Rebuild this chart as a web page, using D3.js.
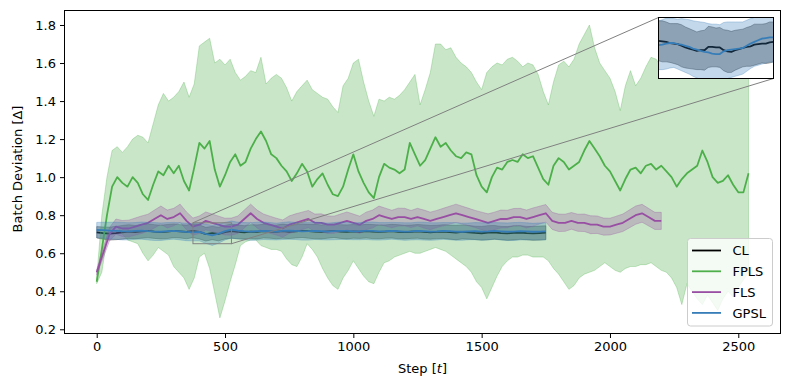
<!DOCTYPE html>
<html>
<head>
<meta charset="utf-8">
<script src="https://cdn.jsdelivr.net/npm/d3@7"></script>
<style>
  body { margin: 0; background: #fff; }
  svg text { font-family: "DejaVu Sans", sans-serif; fill: #000; }
</style>
</head>
<body>
<div id="chart"></div>
<script>
// ---- data ----
const fplsStep = 20;
const fplsMean = [
  0.45,0.62,0.80,0.95,1.00,0.97,0.95,1.00,0.97,0.91,
  0.88,0.96,1.03,1.01,1.06,1.02,1.06,0.98,0.93,1.05,
  1.18,1.15,1.19,1.04,0.95,1.01,1.08,1.12,1.06,1.08,
  1.15,1.20,1.24,1.19,1.12,1.10,1.06,1.03,0.98,1.02,
  1.07,1.03,0.95,0.99,1.02,0.96,0.91,0.90,0.95,1.04,
  1.12,1.03,0.97,0.92,0.89,1.00,1.07,1.05,1.04,1.02,
  1.04,1.18,1.12,1.06,1.09,1.15,1.21,1.16,1.18,1.14,
  1.11,1.10,1.13,1.12,1.01,0.95,0.92,1.00,1.05,1.04,
  1.08,1.09,1.08,1.12,1.10,1.11,1.05,0.99,0.96,1.06,
  1.10,1.08,1.04,1.06,1.08,1.14,1.19,1.15,1.11,1.06,
  1.03,0.98,0.93,0.99,1.04,1.05,1.02,1.06,1.07,1.04,
  1.06,1.03,1.00,0.95,0.99,1.02,1.04,1.06,1.14,1.08,
  1.00,0.97,0.98,1.01,0.96,0.92,0.92,1.02
];
const fplsUpper = [
  0.47,0.80,1.00,1.14,1.16,1.13,1.16,1.20,1.22,1.21,
  1.18,1.28,1.38,1.44,1.40,1.42,1.45,1.50,1.42,1.49,
  1.69,1.71,1.73,1.60,1.62,1.59,1.62,1.55,1.51,1.53,
  1.56,1.55,1.63,1.49,1.52,1.54,1.52,1.47,1.40,1.45,
  1.48,1.51,1.46,1.44,1.42,1.41,1.37,1.34,1.48,1.52,
  1.60,1.62,1.50,1.40,1.32,1.41,1.40,1.42,1.41,1.43,
  1.46,1.50,1.54,1.38,1.46,1.55,1.70,1.70,1.67,1.68,
  1.63,1.60,1.58,1.55,1.50,1.46,1.55,1.58,1.60,1.59,
  1.62,1.63,1.61,1.58,1.60,1.59,1.54,1.45,1.38,1.50,
  1.59,1.61,1.58,1.62,1.70,1.75,1.80,1.68,1.60,1.56,
  1.52,1.45,1.35,1.48,1.56,1.48,1.52,1.58,1.63,1.62,
  1.58,1.60,1.57,1.55,1.58,1.60,1.62,1.64,1.66,1.62,
  1.58,1.60,1.62,1.60,1.57,1.55,1.56,1.55
];
const fplsLower = [
  0.44,0.50,0.68,0.74,0.74,0.70,0.67,0.66,0.65,0.60,
  0.56,0.59,0.63,0.61,0.59,0.53,0.50,0.47,0.41,0.47,
  0.58,0.60,0.52,0.39,0.26,0.35,0.45,0.54,0.64,0.66,
  0.67,0.67,0.64,0.63,0.62,0.62,0.61,0.57,0.54,0.53,
  0.58,0.65,0.62,0.58,0.52,0.47,0.43,0.41,0.47,0.51,
  0.56,0.52,0.48,0.45,0.44,0.50,0.55,0.56,0.58,0.59,
  0.60,0.61,0.60,0.60,0.61,0.62,0.63,0.62,0.61,0.59,
  0.57,0.55,0.53,0.50,0.45,0.42,0.36,0.42,0.48,0.53,
  0.56,0.58,0.58,0.59,0.59,0.58,0.58,0.58,0.56,0.52,
  0.49,0.45,0.41,0.43,0.47,0.49,0.50,0.51,0.53,0.55,
  0.53,0.51,0.50,0.52,0.53,0.53,0.54,0.54,0.55,0.53,
  0.51,0.50,0.47,0.42,0.33,0.44,0.40,0.36,0.33,0.38,
  0.34,0.30,0.36,0.40,0.37,0.42,0.46,0.50
];

const flsStep = 25;
const flsMean = [
  0.50,0.60,0.70,0.74,0.73,0.73,0.74,0.75,0.76,0.78,
  0.80,0.78,0.79,0.81,0.77,0.74,0.75,0.77,0.76,0.75,
  0.74,0.74,0.75,0.78,0.81,0.78,0.76,0.75,0.74,0.73,
  0.75,0.76,0.77,0.78,0.76,0.76,0.75,0.75,0.76,0.77,
  0.76,0.75,0.77,0.78,0.80,0.79,0.78,0.79,0.79,0.78,
  0.79,0.78,0.77,0.78,0.79,0.80,0.81,0.80,0.79,0.78,
  0.77,0.76,0.77,0.78,0.78,0.79,0.79,0.78,0.79,0.80,
  0.81,0.77,0.76,0.76,0.77,0.76,0.76,0.75,0.75,0.74,
  0.74,0.75,0.76,0.78,0.80,0.81,0.79,0.77,0.77
];
const flsSd = [
  0.015,0.025,0.035,0.040,0.042,0.044,0.045,0.046,0.045,0.047,
  0.048,0.047,0.046,0.048,0.047,0.045,0.046,0.047,0.046,0.045,
  0.044,0.045,0.046,0.047,0.048,0.047,0.046,0.045,0.044,0.045,
  0.046,0.047,0.046,0.045,0.046,0.047,0.046,0.045,0.046,0.047,
  0.046,0.045,0.046,0.047,0.048,0.047,0.046,0.047,0.046,0.045,
  0.046,0.047,0.046,0.045,0.046,0.047,0.048,0.047,0.046,0.045,
  0.046,0.047,0.046,0.047,0.046,0.045,0.046,0.047,0.048,0.047,
  0.046,0.045,0.046,0.045,0.044,0.045,0.046,0.047,0.046,0.045,
  0.044,0.045,0.046,0.047,0.048,0.047,0.046,0.045,0.045
];

const clStep = 25;
const clMean = [
  0.710,0.706,0.703,0.706,0.710,0.714,0.711,0.715,0.718,0.714,
  0.711,0.714,0.718,0.715,0.712,0.718,0.712,0.700,0.706,0.701,
  0.711,0.716,0.712,0.710,0.714,0.712,0.716,0.714,0.712,0.716,
  0.713,0.715,0.718,0.716,0.714,0.712,0.715,0.717,0.714,0.712,
  0.715,0.713,0.716,0.714,0.712,0.714,0.716,0.713,0.711,0.713,
  0.715,0.712,0.710,0.712,0.714,0.711,0.709,0.712,0.710,0.707,
  0.705,0.708,0.710,0.706,0.704,0.707,0.709,0.706,0.704,0.706,
  0.708
];
const clSd = [
  0.030,0.032,0.034,0.035,0.036,0.036,0.035,0.036,0.037,0.036,
  0.036,0.037,0.036,0.035,0.036,0.036,0.037,0.036,0.035,0.036,
  0.036,0.037,0.036,0.035,0.036,0.037,0.036,0.035,0.036,0.037,
  0.036,0.035,0.036,0.037,0.038,0.037,0.036,0.035,0.036,0.037,
  0.036,0.035,0.036,0.037,0.036,0.035,0.036,0.037,0.036,0.035,
  0.036,0.037,0.036,0.035,0.036,0.037,0.038,0.037,0.036,0.035,
  0.036,0.037,0.036,0.035,0.036,0.037,0.036,0.035,0.036,0.037,
  0.036
];
const gpslMean = [
  0.722,0.721,0.719,0.718,0.716,0.715,0.717,0.719,0.716,0.714,
  0.713,0.716,0.718,0.715,0.712,0.710,0.712,0.702,0.694,0.703,
  0.716,0.724,0.719,0.716,0.714,0.716,0.718,0.716,0.714,0.717,
  0.719,0.717,0.715,0.716,0.718,0.716,0.714,0.716,0.718,0.717,
  0.715,0.716,0.718,0.717,0.715,0.716,0.718,0.716,0.714,0.715,
  0.717,0.716,0.714,0.715,0.717,0.716,0.714,0.713,0.715,0.716,
  0.714,0.715,0.717,0.715,0.713,0.714,0.716,0.715,0.713,0.714,
  0.715
];
const gpslSd = [
  0.040,0.042,0.044,0.045,0.046,0.045,0.044,0.045,0.046,0.047,
  0.046,0.045,0.044,0.045,0.046,0.045,0.047,0.050,0.053,0.050,
  0.046,0.045,0.044,0.045,0.046,0.047,0.046,0.045,0.044,0.045,
  0.046,0.045,0.046,0.047,0.046,0.045,0.044,0.045,0.046,0.045,
  0.044,0.045,0.046,0.047,0.046,0.045,0.044,0.045,0.046,0.045,
  0.046,0.047,0.046,0.045,0.044,0.045,0.046,0.045,0.044,0.045,
  0.046,0.045,0.044,0.045,0.046,0.047,0.046,0.045,0.044,0.045,
  0.045
];

// finer readings for the zoomed window (steps 375..525)
const insetStart = 375, insetStep = 5;
const clInsetMean = [
  0.718,0.717,0.716,0.714,0.713,0.712,0.709,0.706,0.704,0.702,
  0.700,0.701,0.701,0.707,0.707,0.706,0.706,0.701,0.699,0.698,
  0.701,0.703,0.705,0.707,0.708,0.711,0.712,0.713,0.713,0.715,
  0.716
];
const clInsetSd = [
  0.036,0.037,0.036,0.035,0.036,0.037,0.038,0.037,0.036,0.035,
  0.034,0.035,0.036,0.037,0.036,0.035,0.036,0.037,0.038,0.037,
  0.036,0.035,0.034,0.035,0.036,0.037,0.036,0.035,0.036,0.037,
  0.036
];
const gpslInsetMean = [
  0.710,0.711,0.713,0.714,0.714,0.712,0.711,0.709,0.707,0.704,
  0.702,0.700,0.698,0.697,0.695,0.694,0.694,0.699,0.701,0.702,
  0.703,0.704,0.705,0.709,0.713,0.716,0.719,0.722,0.723,0.724,
  0.724
];
const gpslInsetSd = [
  0.044,0.045,0.046,0.045,0.044,0.045,0.047,0.048,0.049,0.050,
  0.051,0.052,0.053,0.052,0.053,0.054,0.053,0.052,0.051,0.050,
  0.049,0.048,0.047,0.046,0.045,0.044,0.045,0.046,0.045,0.044,
  0.045
];

const xTicks = [0, 500, 1000, 1500, 2000, 2500];
const yTicks = [0.2, 0.4, 0.6, 0.8, 1.0, 1.2, 1.4, 1.6, 1.8];
const seriesNames = ["CL", "FPLS", "FLS", "GPSL"];
const seriesColors = ["#000000", "#4daf4a", "#984ea3", "#377eb8"];
const insetXLim = [375, 525];
const insetYLim = [0.65, 0.76];

// ---- build records ----
const toRecs = (step, start, mean, lo, hi) =>
  mean.map((m, i) => ({ t: start + i * step, m, lo: lo(i), hi: hi(i) }));
const cl = toRecs(clStep, 0, clMean, i => clMean[i] - clSd[i], i => clMean[i] + clSd[i]);
const fpls = toRecs(fplsStep, 0, fplsMean, i => fplsLower[i], i => fplsUpper[i]);
const fls = toRecs(flsStep, 0, flsMean, i => flsMean[i] - flsSd[i], i => flsMean[i] + flsSd[i]);
const gpsl = toRecs(clStep, 0, gpslMean, i => gpslMean[i] - gpslSd[i], i => gpslMean[i] + gpslSd[i]);
const clIn = toRecs(insetStep, insetStart, clInsetMean, i => clInsetMean[i] - clInsetSd[i], i => clInsetMean[i] + clInsetSd[i]);
const gpslIn = toRecs(insetStep, insetStart, gpslInsetMean, i => gpslInsetMean[i] - gpslInsetSd[i], i => gpslInsetMean[i] + gpslInsetSd[i]);

// ---- layout ----
const W = 790, H = 390;
const plot = { left: 64.5, right: 780.5, top: 10.5, bottom: 333.5 };
const inset = { left: 658.5, right: 773.5, top: 17.5, bottom: 78.5 };
const font = 13;

const svg = d3.select("#chart").append("svg")
  .attr("width", W).attr("height", H);

const x = d3.scaleLinear().domain([-125.5, 2664.5]).range([plot.left, plot.right]);
const y = d3.scaleLinear().domain([0.1779, 1.8762]).range([plot.bottom, plot.top]);

svg.append("clipPath").attr("id", "clipMain").append("rect")
  .attr("x", plot.left).attr("y", plot.top)
  .attr("width", plot.right - plot.left).attr("height", plot.bottom - plot.top);

const body = svg.append("g").attr("clip-path", "url(#clipMain)");

const drawSeries = (g, data, color, xs, ys) => {
  const area = d3.area().x(d => xs(d.t)).y0(d => ys(d.lo)).y1(d => ys(d.hi));
  const line = d3.line().x(d => xs(d.t)).y(d => ys(d.m));
  g.append("path").datum(data).attr("d", area)
    .attr("fill", color).attr("fill-opacity", 0.3)
    .attr("stroke", color).attr("stroke-opacity", 0.3).attr("stroke-width", 1);
  g.append("path").datum(data).attr("d", line)
    .attr("fill", "none").attr("stroke", color).attr("stroke-width", 1.8)
    .attr("stroke-linejoin", "round");
};

[cl, fpls, fls, gpsl].forEach((s, i) => drawSeries(body, s, seriesColors[i], x, y));

// zoom indicator + connectors
const rx0 = x(insetXLim[0]), rx1 = x(insetXLim[1]);
const ry0 = y(insetYLim[1]), ry1 = y(insetYLim[0]);
svg.append("rect")
  .attr("x", rx0).attr("y", ry0).attr("width", rx1 - rx0).attr("height", ry1 - ry0)
  .attr("fill", "none").attr("stroke", "#808080").attr("stroke-width", 1);
svg.append("line")
  .attr("x1", inset.left).attr("y1", inset.top).attr("x2", rx0).attr("y2", ry0)
  .attr("stroke", "#808080").attr("stroke-width", 1);
svg.append("line")
  .attr("x1", inset.right).attr("y1", inset.bottom).attr("x2", rx1).attr("y2", ry1)
  .attr("stroke", "#808080").attr("stroke-width", 1);

// axes
const xAxis = svg.append("g").attr("transform", `translate(0,${plot.bottom})`)
  .call(d3.axisBottom(x).tickValues(xTicks).tickSize(4.5).tickPadding(4).tickFormat(d3.format("d")));
const yAxis = svg.append("g").attr("transform", `translate(${plot.left},0)`)
  .call(d3.axisLeft(y).tickValues(yTicks).tickSize(4.5).tickPadding(4).tickFormat(d3.format(".1f")));
[xAxis, yAxis].forEach(a => {
  a.select(".domain").remove();
  a.selectAll(".tick line").attr("stroke", "#000").attr("stroke-width", 1);
  a.selectAll(".tick text").style("font-size", font + "px").attr("fill", "#000")
    .style("font-family", '"DejaVu Sans", sans-serif');
});

svg.append("rect")
  .attr("x", plot.left).attr("y", plot.top)
  .attr("width", plot.right - plot.left).attr("height", plot.bottom - plot.top)
  .attr("fill", "none").attr("stroke", "#000").attr("stroke-width", 1);

// axis labels
const xl = svg.append("text")
  .attr("x", (plot.left + plot.right) / 2).attr("y", 373)
  .attr("text-anchor", "middle").style("font-size", font + "px");
xl.append("tspan").text("Step [");
xl.append("tspan").style("font-style", "italic").text("t");
xl.append("tspan").text("]");

svg.append("text")
  .attr("transform", `translate(22,169) rotate(-90)`)
  .attr("text-anchor", "middle").style("font-size", font + "px")
  .text("Batch Deviation [Δ]");

// legend
const lg = svg.append("g");
lg.append("rect")
  .attr("x", 687.5).attr("y", 238.5).attr("width", 85).attr("height", 87.5)
  .attr("rx", 3).attr("fill", "#fff").attr("fill-opacity", 0.8)
  .attr("stroke", "#cccccc").attr("stroke-width", 1);
seriesNames.forEach((name, i) => {
  const yy = 250.5 + i * 20.8;
  lg.append("line").attr("x1", 692).attr("x2", 721).attr("y1", yy).attr("y2", yy)
    .attr("stroke", seriesColors[i]).attr("stroke-width", 1.8);
  lg.append("text").attr("x", 732.5).attr("y", yy).attr("dy", "0.36em")
    .style("font-size", font + "px").text(name);
});

// inset
const xi = d3.scaleLinear().domain(insetXLim).range([inset.left, inset.right]);
const yi = d3.scaleLinear().domain(insetYLim).range([inset.bottom, inset.top]);
svg.append("clipPath").attr("id", "clipInset").append("rect")
  .attr("x", inset.left).attr("y", inset.top)
  .attr("width", inset.right - inset.left).attr("height", inset.bottom - inset.top);
svg.append("rect")
  .attr("x", inset.left).attr("y", inset.top)
  .attr("width", inset.right - inset.left).attr("height", inset.bottom - inset.top)
  .attr("fill", "#fff");
const ib = svg.append("g").attr("clip-path", "url(#clipInset)");
drawSeries(ib, clIn, seriesColors[0], xi, yi);
drawSeries(ib, gpslIn, seriesColors[3], xi, yi);
svg.append("rect")
  .attr("x", inset.left).attr("y", inset.top)
  .attr("width", inset.right - inset.left).attr("height", inset.bottom - inset.top)
  .attr("fill", "none").attr("stroke", "#000").attr("stroke-width", 1);
</script>
</body>
</html>
